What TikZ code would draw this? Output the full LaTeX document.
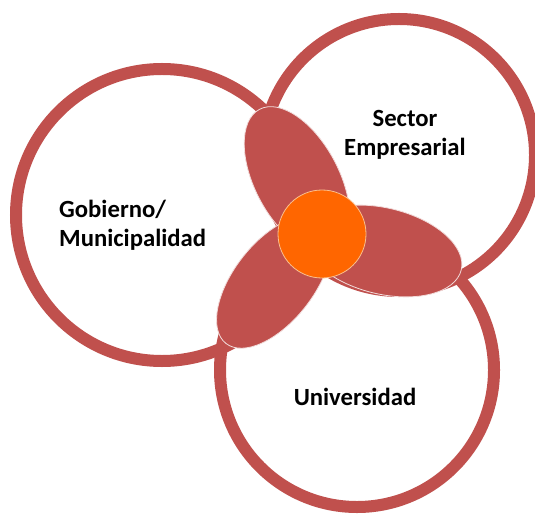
\documentclass[tikz,border=0pt]{standalone}
\usepackage{fontspec}
\setmainfont{Carlito}
\usetikzlibrary{shapes.geometric}
\definecolor{ringred}{RGB}{192,80,77}
\definecolor{orangefill}{RGB}{255,102,0}
\definecolor{petaledge}{RGB}{242,220,219}
\definecolor{coreedge}{RGB}{250,192,144}
\begin{document}
\begin{tikzpicture}[x=1bp,y=-1bp,
  ring/.style={circle, draw=ringred, line width=12bp, inner sep=0pt},
  petal/.style={ellipse, fill=ringred, draw=petaledge, line width=0.8bp, inner sep=0pt},
  core/.style={circle, fill=orangefill, draw=coreedge, line width=0.8bp, inner sep=0pt, minimum size=88bp},
  lbl/.style={font=\bfseries\fontsize{24.8}{29}\selectfont, text=black, inner sep=0pt}]
\useasboundingbox[fill=white] (0,0) rectangle (535,515);
\node[ring, minimum size=292bp] (gob) at (162,215) {};
\node[ring, minimum size=272bp] (sec) at (399,155) {};
\node[ring, minimum size=274bp] (uni) at (357,370) {};
\node[petal, minimum width=160bp, minimum height=84bp, rotate=-62] (p1) at (297,180) {};
\node[petal, minimum width=161bp, minimum height=86bp, rotate=-13.6] (p2) at (383,251) {};
\node[petal, minimum width=156bp, minimum height=80bp, rotate=-128] (p3) at (274,282) {};
\node[core] (c) at (322,234) {};
\node[lbl, align=left, anchor=west] (tg) at (59,225) {Gobierno/\\Municipalidad};
\node[lbl, align=center] (ts) at (405,135) {Sector\\Empresarial};
\node[lbl] (tu) at (355,397) {Universidad};
\end{tikzpicture}
\end{document}
